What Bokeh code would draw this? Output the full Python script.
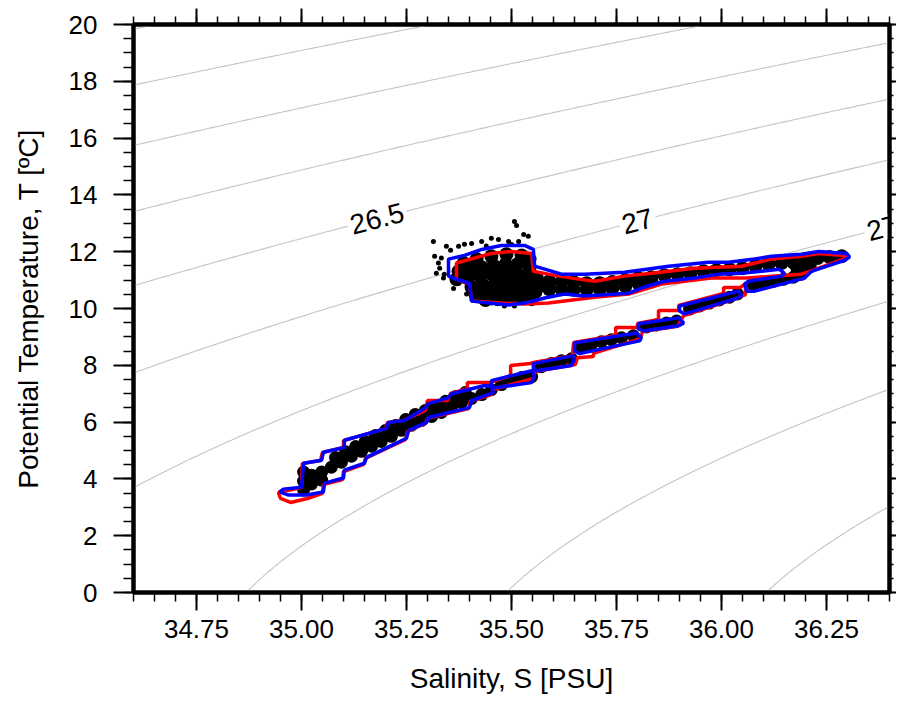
import numpy as np
from bokeh.plotting import figure
from bokeh.models import LinearAxis, Range1d, FixedTicker
from bokeh.core.properties import value
from bokeh.embed import file_html
from bokeh.resources import INLINE

# ---------------- axes / ticks ----------------
S_MIN, S_MAX = 34.6, 36.4
T_MIN, T_MAX = 0.0, 20.0
x_ticks = [34.75, 35.0, 35.25, 35.5, 35.75, 36.0, 36.25]
x_tick_labels = ["34.75", "35.00", "35.25", "35.50", "35.75", "36.00", "36.25"]
y_ticks = [0, 2, 4, 6, 8, 10, 12, 14, 16, 18, 20]
y_tick_labels = ["0", "2", "4", "6", "8", "10", "12", "14", "16", "18", "20"]

# ---------------- isopycnals ----------------
sigma_levels = [24.5, 25.0, 25.5, 26.0, 26.5, 27.0, 27.5, 28.0, 28.5, 29.0]
label_levels = [26.5, 27.0, 27.5]
label_text = ["26.5", "27", "27.5"]
label_sal = [35.18, 35.80, 36.41]

# ---------------- scatter ----------------
# dense upper water mass (core + tongue + tip)
core_S = [35.386, 35.417, 35.452, 35.488, 35.524, 35.543,
          35.374, 35.400, 35.429, 35.457, 35.486, 35.514, 35.543,
          35.369, 35.395, 35.424, 35.452, 35.481, 35.510, 35.538, 35.560,
          35.405, 35.433, 35.462, 35.490, 35.519, 35.548, 35.571,
          35.414, 35.443, 35.471, 35.500, 35.529, 35.557,
          35.438, 35.467, 35.495, 35.524, 35.548,
          35.590, 35.590, 35.619, 35.619, 35.648, 35.648, 35.679, 35.679,
          35.710, 35.710, 35.740, 35.740, 35.771, 35.771, 35.802, 35.802,
          35.833, 35.833, 35.864, 35.895, 35.926, 35.957, 35.988, 36.019,
          36.050, 36.081, 36.112,
          36.143, 36.171, 36.200, 36.229, 36.257, 36.286, 36.181, 36.210]
core_T = [11.60, 11.74, 11.84, 11.91, 11.87, 11.74,
          11.31, 11.38, 11.45, 11.52, 11.56, 11.56, 11.45,
          11.03, 11.07, 11.14, 11.21, 11.24, 11.24, 11.21, 11.07,
          10.75, 10.82, 10.89, 10.93, 10.93, 10.86, 10.82,
          10.51, 10.54, 10.58, 10.61, 10.61, 10.58,
          10.30, 10.33, 10.37, 10.37, 10.33,
          10.96, 10.68, 10.93, 10.68, 10.93, 10.66, 10.89, 10.66,
          10.89, 10.68, 10.93, 10.70, 11.00, 10.78, 11.07, 10.88,
          11.10, 10.95, 11.17, 11.21, 11.24, 11.31, 11.35, 11.38,
          11.42, 11.49, 11.56,
          11.60, 11.62, 11.70, 11.78, 11.81, 11.84, 11.40, 11.48]

# dense lower water mass (diagonal branch)
band_S = [35.005, 35.005, 35.005, 35.024, 35.024, 35.048, 35.048, 35.071,
          35.095, 35.119, 35.143, 35.167, 35.190, 35.214, 35.238, 35.262,
          35.286, 35.310, 35.333, 35.357, 35.381, 35.405, 35.429, 35.452,
          35.476, 35.500, 35.524, 35.548, 35.571, 35.595, 35.619, 35.643,
          35.667, 35.690, 35.714, 35.738, 35.762, 35.790,
          35.821, 35.845, 35.869, 35.893,
          35.924, 35.948, 35.971, 35.995, 36.019, 36.038,
          36.076, 36.100, 36.124, 36.148, 36.171, 36.190,
          35.081, 35.105, 35.129, 35.152, 35.176, 35.200, 35.224, 35.248,
          35.271, 35.295, 35.319, 35.343, 35.367, 35.390]
band_T = [3.61, 3.92, 4.24, 3.82, 4.13, 4.24, 3.96, 4.41,
          4.59, 4.80, 4.97, 5.15, 5.32, 5.50, 5.71, 5.89,
          6.06, 6.20, 6.34, 6.51, 6.69, 6.83, 6.97, 7.14,
          7.32, 7.46, 7.57, 7.60, 7.95, 8.06, 8.16, 8.23,
          8.62, 8.72, 8.83, 8.90, 8.97, 9.04,
          9.35, 9.42, 9.49, 9.56,
          9.98, 10.09, 10.19, 10.30, 10.40, 10.51,
          10.82, 10.89, 10.96, 11.03, 11.10, 11.21,
          4.75, 4.96, 5.14, 5.32, 5.53, 5.70, 5.88, 6.09,
          6.27, 6.41, 6.58, 6.73, 6.90, 7.04]

# scattered individual casts
sparse_S = [35.314, 35.345, 35.317, 35.333, 35.329, 35.321, 35.340, 35.338,
            35.374, 35.393, 35.374, 35.388, 35.405, 35.429, 35.452, 35.469,
            35.493, 35.517, 35.507, 35.512, 35.529, 35.540, 35.483, 35.507,
            35.452, 35.412, 35.326, 35.355, 35.362, 35.440, 35.500]
sparse_T = [12.36, 12.19, 11.84, 11.78, 11.42, 11.24, 11.21, 11.07,
            10.89, 10.51, 12.19, 12.26, 12.29, 12.36, 12.47, 12.43,
            12.36, 12.36, 13.06, 12.92, 12.61, 12.54, 10.09, 10.09,
            10.19, 10.33, 11.60, 12.05, 10.70, 12.20, 12.25]

# ---------------- outlines ----------------
blue_S = [
    [35.350, 35.388, 35.429, 35.476, 35.531, 35.552, 35.555, 35.571, 35.619, 35.674,
     35.769, 35.874, 35.969, 36.017, 36.079, 36.119, 36.190, 36.231, 36.298, 36.305,
     36.293, 36.214, 36.198, 36.079, 36.060, 36.055, 36.064, 36.143, 36.150, 36.138,
     36.048, 35.993, 35.936, 35.864, 35.809, 35.779, 35.674, 35.626, 35.579, 35.531,
     35.493, 35.405, 35.400, 35.369, 35.350],
    [34.948, 34.957, 35.000, 35.005, 35.048, 35.052, 35.102, 35.102, 35.202, 35.207,
     35.245, 35.293, 35.302, 35.350, 35.357, 35.436, 35.452, 35.457, 35.405, 35.400,
     35.302, 35.298, 35.255, 35.250, 35.155, 35.150, 35.102, 35.100, 35.055, 35.052,
     35.012, 34.969],
    [35.452, 35.548, 35.555, 35.548, 35.460, 35.452],
    [35.552, 35.648, 35.650, 35.643, 35.560, 35.552],
    [35.650, 35.798, 35.809, 35.805, 35.662, 35.650],
    [35.802, 35.898, 35.910, 35.898, 35.814, 35.802],
    [35.900, 36.040, 36.048, 36.031, 35.912, 35.900],
]
blue_T = [
    [11.74, 11.87, 12.08, 12.22, 12.22, 12.08, 11.49, 11.42, 11.21, 11.21,
     11.28, 11.49, 11.63, 11.63, 11.74, 11.84, 11.91, 12.01, 11.94, 11.81,
     11.70, 11.31, 11.07, 10.61, 10.61, 10.86, 10.96, 11.14, 11.24, 11.38,
     11.24, 11.21, 11.07, 10.96, 10.72, 10.54, 10.44, 10.51, 10.37, 10.19,
     10.12, 10.26, 10.89, 11.03, 11.14],
    [3.54, 3.64, 3.71, 4.55, 4.66, 4.94, 5.11, 5.36, 5.78, 5.99,
     6.06, 6.48, 6.65, 6.86, 7.00, 7.29, 7.25, 7.04, 6.76, 6.51,
     6.16, 5.99, 5.71, 5.43, 4.76, 4.55, 4.31, 4.03, 3.85, 3.54,
     3.43, 3.43],
    [7.46, 7.81, 7.64, 7.39, 7.21, 7.29],
    [8.06, 8.34, 8.23, 7.99, 7.81, 7.88],
    [8.79, 9.14, 8.97, 8.86, 8.41, 8.51],
    [9.46, 9.67, 9.49, 9.39, 9.21, 9.28],
    [10.09, 10.61, 10.44, 10.33, 9.81, 9.91],
]

red_S = [
    [35.369, 35.452, 35.500, 35.548, 35.552, 35.588, 35.643, 35.698, 35.769, 35.833,
     35.936, 36.048, 36.119, 36.190, 36.231, 36.293, 36.298, 36.210, 36.190, 36.060,
     35.976, 35.857, 35.779, 35.698, 35.588, 35.531, 35.476, 35.405, 35.400, 35.369],
    [34.945, 35.000, 35.002, 35.045, 35.050, 35.100, 35.100, 35.200, 35.205, 35.243,
     35.295, 35.300, 35.348, 35.355, 35.395, 35.395, 35.450, 35.498, 35.498, 35.545,
     35.552, 35.645, 35.648, 35.748, 35.748, 35.800, 35.800, 35.850, 35.850, 35.898,
     35.898, 36.005, 36.005, 36.045, 36.057,
     36.057, 36.029, 35.910, 35.895, 35.812, 35.807, 35.695, 35.695, 35.657, 35.652,
     35.557, 35.552, 35.457, 35.452, 35.402, 35.398, 35.300, 35.295, 35.252, 35.248,
     35.152, 35.148, 35.100, 35.098, 35.052, 35.050, 35.014, 34.974, 34.950],
]
red_T = [
    [11.60, 11.94, 12.01, 11.94, 11.31, 11.21, 11.07, 10.96, 11.14, 11.24,
     11.42, 11.49, 11.74, 11.84, 11.94, 11.87, 11.78, 11.31, 11.21, 11.07,
     11.07, 10.86, 10.51, 10.40, 10.19, 10.16, 10.19, 10.26, 10.86, 11.03],
    [3.52, 3.70, 4.54, 4.65, 4.93, 5.11, 5.35, 5.77, 5.99, 6.06,
     6.41, 6.76, 6.76, 7.01, 7.18, 7.39, 7.39, 7.64, 7.99, 8.06,
     8.10, 8.34, 8.80, 9.05, 9.33, 9.33, 9.47, 9.61, 9.93, 9.93,
     10.11, 10.53, 10.74, 10.74, 10.88,
     10.49, 10.32, 9.75, 9.37, 9.19, 8.94, 8.42, 8.31, 8.27, 8.03,
     7.78, 7.54, 7.15, 6.97, 6.73, 6.48, 6.13, 5.95, 5.67, 5.39,
     4.72, 4.51, 4.26, 3.98, 3.80, 3.49, 3.31, 3.17, 3.31],
]


def sigma0(S, T):
    """UNESCO (1980) density at surface pressure, minus 1000."""
    rw = (999.842594 + 6.793952e-2 * T - 9.095290e-3 * T**2 + 1.001685e-4 * T**3
          - 1.120083e-6 * T**4 + 6.536332e-9 * T**5)
    A = 8.24493e-1 - 4.0899e-3 * T + 7.6438e-5 * T**2 - 8.2467e-7 * T**3 + 5.3875e-9 * T**4
    B = -5.72466e-3 + 1.0227e-4 * T - 1.6546e-6 * T**2
    C = 4.8314e-4
    return rw + A * S + B * S**1.5 + C * S**2 - 1000.0


FW, FH = 756, 568
FONT = "Liberation Sans"

p = figure(frame_width=FW, frame_height=FH, output_backend="svg", toolbar_location=None,
           x_range=Range1d(S_MIN, S_MAX), y_range=Range1d(T_MIN, T_MAX),
           min_border_left=133, min_border_right=0, min_border_top=24, min_border_bottom=0,
           x_axis_location=None, y_axis_location=None)
p.xgrid.visible = False
p.ygrid.visible = False
p.outline_line_color = "black"
p.outline_line_width = 4
p.background_fill_color = "white"
p.border_fill_color = "white"

# isopycnal contours
sg = np.linspace(S_MIN, S_MAX, 181)
tg = np.linspace(T_MIN, T_MAX, 201)
SS, TT = np.meshgrid(sg, tg)
p.contour(x=sg, y=tg, z=sigma0(SS, TT), levels=sigma_levels,
          line_color="#c4c4c4", line_width=1.1, fill_color=None)

# contour labels placed on their isopycnal, rotated along it
ppx = FW / (S_MAX - S_MIN)
ppy = FH / (T_MAX - T_MIN)
lab_T, lab_ang = [], []
for lev, s in zip(label_levels, label_sal):
    lo, hi = -2.0, 30.0
    for _ in range(60):
        mid = 0.5 * (lo + hi)
        if sigma0(s, mid) > lev:
            lo = mid
        else:
            hi = mid
    t = 0.5 * (lo + hi)
    dsds = (sigma0(s + 1e-4, t) - sigma0(s - 1e-4, t)) / 2e-4
    dsdt = (sigma0(s, t + 1e-4) - sigma0(s, t - 1e-4)) / 2e-4
    lab_T.append(t)
    lab_ang.append(float(np.arctan(-dsds / dsdt * ppy / ppx)))

p.text(x=label_sal, y=lab_T, text=label_text, angle=lab_ang,
       text_font=value(FONT), text_font_size="28px", text_color="black",
       text_align="center", text_baseline="middle",
       background_fill_color="white", padding=3)

# scatter
p.scatter(core_S, core_T, size=14, color="black", line_color=None)
p.scatter(band_S, band_T, size=13, color="black", line_color=None)
p.scatter(sparse_S, sparse_T, size=5, color="black", line_color=None)

# outlines
p.patches(red_S, red_T, fill_color=None, line_color="#ff0000", line_width=3.5)
p.patches(blue_S, blue_T, fill_color=None, line_color="#0000ff", line_width=3.5)

# axes
xtk = FixedTicker(ticks=x_ticks, minor_ticks=[round(34.6 + 0.05 * i, 2) for i in range(37)])
ytk = FixedTicker(ticks=y_ticks, minor_ticks=[0.5 * i for i in range(41)])
x_over = {t: l for t, l in zip(x_ticks, x_tick_labels)}
y_over = {t: l for t, l in zip(y_ticks, y_tick_labels)}


def style(ax, tick_out, minor_out, show_labels):
    ax.axis_line_color = "black"
    ax.axis_line_width = 4
    ax.major_tick_line_color = "black"
    ax.minor_tick_line_color = "black"
    ax.major_tick_line_width = 2
    ax.minor_tick_line_width = 1.5
    ax.major_tick_in = 0
    ax.minor_tick_in = 0
    ax.major_tick_out = tick_out
    ax.minor_tick_out = minor_out
    if show_labels:
        ax.major_label_text_font = FONT
        ax.major_label_text_font_size = "26px"
        ax.major_label_text_color = "black"
        ax.axis_label_text_font = FONT
        ax.axis_label_text_font_size = "28px"
        ax.axis_label_text_font_style = "normal"
        ax.axis_label_text_color = "black"
    else:
        ax.major_label_standoff = 0


bottom = LinearAxis(ticker=xtk, major_label_overrides=x_over, axis_label="Salinity, S [PSU]")
style(bottom, 18, 9, True)
bottom.major_label_standoff = 9
bottom.axis_label_standoff = 22
p.add_layout(bottom, "below")

left = LinearAxis(ticker=ytk, major_label_overrides=y_over,
                  axis_label="Potential Temperature, T [ºC]")
style(left, 20, 10, True)
left.major_label_standoff = 16
left.axis_label_standoff = 22
p.add_layout(left, "left")

top = LinearAxis(ticker=xtk, major_label_overrides={t: "" for t in x_ticks})
style(top, 16, 8, False)
p.add_layout(top, "above")

right = LinearAxis(ticker=ytk, major_label_overrides={t: "" for t in y_ticks})
style(right, 7, 4, False)
p.add_layout(right, "right")

open("out.html", "w").write(file_html(p, INLINE))
